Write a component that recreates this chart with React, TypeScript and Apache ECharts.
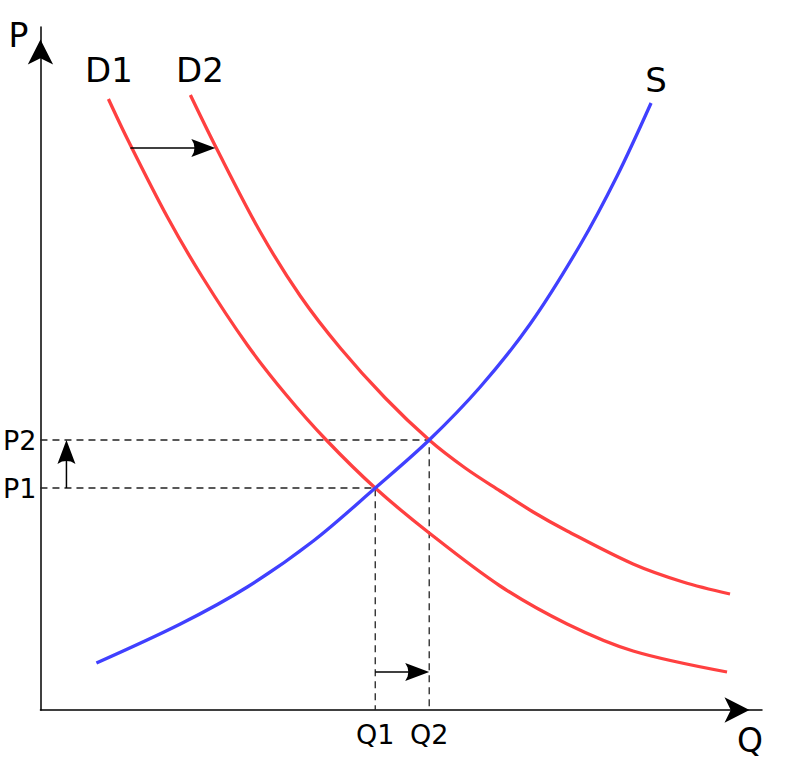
import React, { useEffect, useRef } from 'react';
import * as echarts from 'echarts';

// Tick labels on the axes
const qTickValues = [335, 389];
const qTickLabels = ['Q1', 'Q2'];
const pTickValues = [222, 270];
const pTickLabels = ['P1', 'P2'];

// Demand curve D1
const d1Q = [68, 87, 127, 162, 207, 246, 286, 335, 389, 460, 527, 593, 687];
const d1P = [611, 571, 493, 433, 365, 315, 270, 222, 177, 124, 86, 59, 38];

// Demand curve D2
const d2Q = [150, 176, 220, 260, 300, 345, 389, 425, 460, 493, 527, 593, 643, 690];
const d2P = [615, 562, 478, 414, 362, 312, 270, 242, 219, 198, 179, 146, 128, 116];

// Supply curve S
const sQ = [56, 140, 207, 273, 335, 389, 440, 490, 540, 577, 611];
const sP = [47, 86, 123, 169, 222, 270, 323, 386, 465, 534, 607];

// Shift arrows (from -> to)
const arrowFromQ = [90, 26, 335];
const arrowFromP = [562, 222, 38];
const arrowToQ = [175, 26, 389];
const arrowToP = [562, 270, 38];

const FONT = 'DejaVu Sans';

const zip = (xs: number[], ys: number[]) => xs.map((x, i) => [x, ys[i]]);

export default function App() {
  const ref = useRef<HTMLDivElement>(null);

  useEffect(() => {
    document.body.style.margin = '0';
    if (!ref.current) return;
    const chart = echarts.init(ref.current, null, { renderer: 'svg' });

    const guide = (q: number, p: number) => ({
      type: 'line',
      data: [[0, p], [q, p], [q, 0]],
      showSymbol: false,
      silent: true,
      z: 1,
      lineStyle: { color: '#222', width: 1.3, type: [7, 5] },
    });

    const curve = (name: string, xs: number[], ys: number[], color: string) => ({
      type: 'line',
      name,
      data: zip(xs, ys),
      smooth: 0.33,
      showSymbol: false,
      silent: true,
      z: 3,
      lineStyle: { color, width: 3.3 },
    });

    const labelStyle = (text: string) => ({
      text,
      fontSize: 34,
      fontFamily: FONT,
      fill: '#000',
      align: 'center',
      verticalAlign: 'middle',
      textAlign: 'center',
      textVerticalAlign: 'middle',
    });

    const option: any = {
      animation: false,
      backgroundColor: '#fff',
      grid: { left: 40, right: 37, top: 27, bottom: 56, containLabel: false },
      xAxis: {
        type: 'value',
        min: 0,
        max: 722,
        axisLine: {
          onZero: false,
          lineStyle: { color: '#000', width: 1.5 },
          symbol: ['none', 'arrow'],
          symbolSize: [19, 25],
          symbolOffset: [0, -12.5],
        },
        axisTick: { show: false },
        splitLine: { show: false },
        axisLabel: {
          customValues: qTickValues,
          formatter: (v: number) => qTickLabels[qTickValues.indexOf(v)] ?? '',
          fontSize: 27,
          fontFamily: FONT,
          color: '#000',
          margin: 11,
        },
        name: 'Q',
        nameLocation: 'end',
        nameGap: -12,
        nameTextStyle: {
          fontSize: 33,
          fontFamily: FONT,
          color: '#000',
          align: 'center',
          verticalAlign: 'top',
          padding: [14, 0, 0, 0],
        },
      },
      yAxis: {
        type: 'value',
        min: 0,
        max: 683,
        axisLine: {
          onZero: false,
          lineStyle: { color: '#000', width: 1.5 },
          symbol: ['none', 'arrow'],
          symbolSize: [19, 25],
          symbolOffset: [0, -12.5],
        },
        axisTick: { show: false },
        splitLine: { show: false },
        axisLabel: {
          customValues: pTickValues,
          formatter: (v: number) => pTickLabels[pTickValues.indexOf(v)] ?? '',
          fontSize: 27,
          fontFamily: FONT,
          color: '#000',
          margin: 4,
        },
        name: 'P',
        nameLocation: 'end',
        nameGap: -8,
        nameTextStyle: {
          fontSize: 33,
          fontFamily: FONT,
          color: '#000',
          align: 'right',
          verticalAlign: 'middle',
          padding: [0, 12, 0, 0],
        },
      },
      graphic: [
        { type: 'text', x: 109, y: 70, style: labelStyle('D1') },
        { type: 'text', x: 200, y: 70, style: labelStyle('D2') },
        { type: 'text', x: 656, y: 80, style: labelStyle('S') },
      ],
      series: [
        guide(qTickValues[1], pTickValues[1]),
        guide(qTickValues[0], pTickValues[0]),
        curve('D1', d1Q, d1P, '#ff4040'),
        curve('D2', d2Q, d2P, '#ff4040'),
        curve('S', sQ, sP, '#4040ff'),
        {
          type: 'custom',
          silent: true,
          z: 5,
          encode: { x: [0, 2], y: [1, 3] },
          data: arrowFromQ.map((q, i) => [q, arrowFromP[i], arrowToQ[i], arrowToP[i]]),
          renderItem: (_params: any, api: any) => {
            const a = api.coord([api.value(0), api.value(1)]);
            const b = api.coord([api.value(2), api.value(3)]);
            const dx = b[0] - a[0];
            const dy = b[1] - a[1];
            const len = Math.hypot(dx, dy) || 1;
            const ux = dx / len;
            const uy = dy / len;
            const nx = -uy;
            const ny = ux;
            const L = 24;
            const H = 9;
            const pt = (s: number, t: number) => [b[0] - ux * L * s + nx * H * t, b[1] - uy * L * s + ny * H * t];
            return {
              type: 'group',
              children: [
                {
                  type: 'line',
                  shape: { x1: a[0], y1: a[1], x2: b[0] - ux * L * 0.8, y2: b[1] - uy * L * 0.8 },
                  style: { stroke: '#000', lineWidth: 1.5 },
                },
                {
                  type: 'polygon',
                  shape: { points: [b, pt(1, 1), pt(0.9, 0.5), pt(0.87, 0), pt(0.9, -0.5), pt(1, -1)] },
                  style: { fill: '#000' },
                },
              ],
            };
          },
        },
      ],
    };

    chart.setOption(option);
    return () => chart.dispose();
  }, []);

  return (
    <div
      ref={ref}
      style={{ position: 'absolute', left: 0, top: 0, width: 799, height: 766, background: '#fff' }}
    />
  );
}
